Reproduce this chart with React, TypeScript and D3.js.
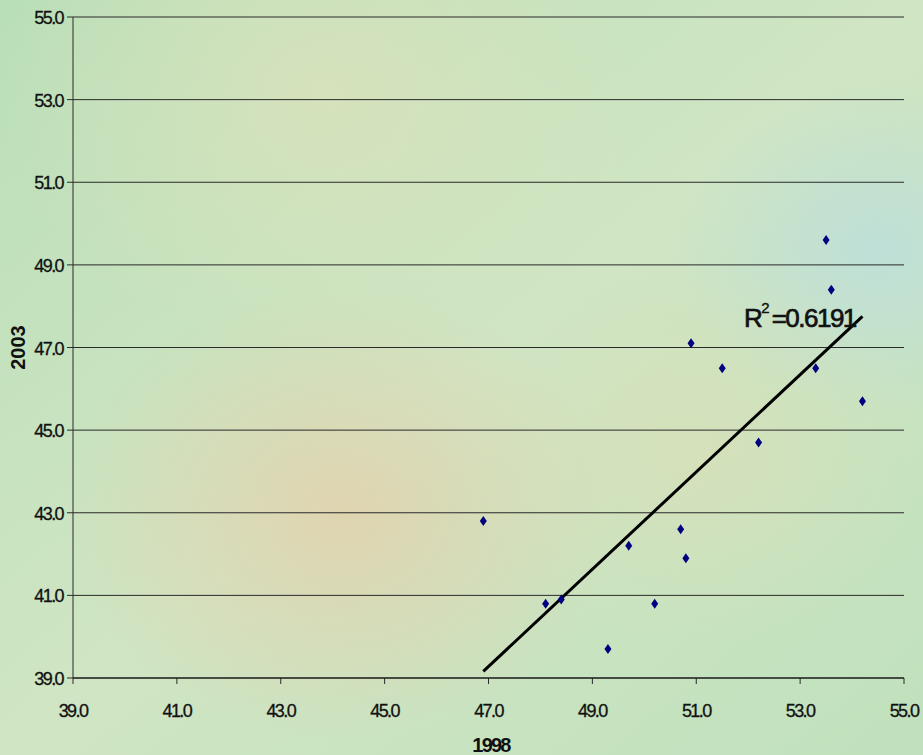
import React from "react";
import * as d3 from "d3";

const x1998 = [46.9, 48.1, 48.4, 49.3, 49.7, 50.2, 50.7, 50.8, 50.9, 51.5, 52.2, 53.3, 53.5, 53.6, 54.2];
const y2003 = [42.8, 40.8, 40.9, 39.7, 42.2, 40.8, 42.6, 41.9, 47.1, 46.5, 44.7, 46.5, 49.6, 48.4, 45.7];
const tickValues = [39, 41, 43, 45, 47, 49, 51, 53, 55];
const trendSlope = 1.177;
const trendIntercept = -16.04;
const r2Label = "0.6191";
const xTitle = "1998";
const yTitle = "2003";

const W = 923, H = 755;
const L = 73, R = 904, T = 17, B = 678;

export default function App() {
  const x = d3.scaleLinear().domain([39, 55]).range([L, R]);
  const y = d3.scaleLinear().domain([39, 55]).range([B, T]);
  const xa = d3.min(x1998)!, xb = d3.max(x1998)!;
  const line = d3.line<number>().x(v => x(v)).y(v => y(trendIntercept + trendSlope * v));
  const font = "Liberation Sans, Arial, sans-serif";
  const tickFont = { fontFamily: font, fontSize: 18, letterSpacing: -1.6, fill: "#111", stroke: "#111", strokeWidth: 0.3 } as const;
  return (
    <svg width={W} height={H} style={{ position: "absolute", left: 0, top: 0 }}>
      <defs>
        <linearGradient id="bg" x1="0" y1="0" x2="1" y2="1">
          <stop offset="0" stopColor="#b9dfb8" />
          <stop offset="0.5" stopColor="#d0e5c3" />
          <stop offset="1" stopColor="#c0e1bd" />
        </linearGradient>
        <radialGradient id="b1" cx="0.37" cy="0.68" r="0.3">
          <stop offset="0" stopColor="#e3d1ad" stopOpacity="0.85" />
          <stop offset="1" stopColor="#e3d1ad" stopOpacity="0" />
        </radialGradient>
        <radialGradient id="b2" cx="0.35" cy="0.12" r="0.35">
          <stop offset="0" stopColor="#dde2bb" stopOpacity="0.7" />
          <stop offset="1" stopColor="#dde2bb" stopOpacity="0" />
        </radialGradient>
        <radialGradient id="b3" cx="0.95" cy="0.33" r="0.22">
          <stop offset="0" stopColor="#bcdfdc" stopOpacity="0.85" />
          <stop offset="1" stopColor="#bcdfdc" stopOpacity="0" />
        </radialGradient>
        <radialGradient id="b4" cx="0.75" cy="0.6" r="0.25">
          <stop offset="0" stopColor="#dcdfb6" stopOpacity="0.6" />
          <stop offset="1" stopColor="#dcdfb6" stopOpacity="0" />
        </radialGradient>
      </defs>
      <rect width={W} height={H} fill="url(#bg)" />
      <rect width={W} height={H} fill="url(#b2)" />
      <rect width={W} height={H} fill="url(#b1)" />
      <rect width={W} height={H} fill="url(#b3)" />
      <rect width={W} height={H} fill="url(#b4)" />
      {tickValues.map(t => (
        <g key={"y" + t}>
          <line x1={L - 6} x2={R} y1={y(t)} y2={y(t)} stroke="#2a2a2a" strokeWidth={1} />
          <text x={L - 10} y={y(t) + 7} textAnchor="end" {...tickFont}>{t.toFixed(1)}</text>
        </g>
      ))}
      {tickValues.map(t => (
        <g key={"x" + t}>
          <line x1={x(t)} x2={x(t)} y1={B} y2={B + 6} stroke="#2a2a2a" />
          <text x={x(t)} y={B + 39} textAnchor="middle" {...tickFont}>{t.toFixed(1)}</text>
        </g>
      ))}
      <line x1={L} x2={L} y1={T} y2={B} stroke="#2a2a2a" />
      <line x1={L} x2={R} y1={B} y2={B} stroke="#111" />
      <path d={line([xa, xb])!} stroke="#000" strokeWidth={3} fill="none" />
      {x1998.map((v, i) => (
        <path key={i} transform={`translate(${x(v)},${y(y2003[i])})`} d="M0,-5 L3.5,0 L0,5 L-3.5,0 Z" fill="#000080" />
      ))}
      <text x={744} y={327} fontFamily={font} fontSize={26} fill="#111" stroke="#111" strokeWidth={0.7} letterSpacing={-1.5}>
        R<tspan dy={-14} fontSize={15} strokeWidth={0.4} letterSpacing={0}>2</tspan><tspan dy={14} dx={2}>{"=" + r2Label}</tspan>
      </text>
      <text x={491} y={752} textAnchor="middle" fontFamily={font} fontWeight="bold" fontSize={20} letterSpacing={-1.8} fill="#111">{xTitle}</text>
      <text transform={`translate(25,${(T + B) / 2}) rotate(-90)`} textAnchor="middle" fontFamily={font} fontWeight="bold" fontSize={20} letterSpacing={0} fill="#111">{yTitle}</text>
    </svg>
  );
}
